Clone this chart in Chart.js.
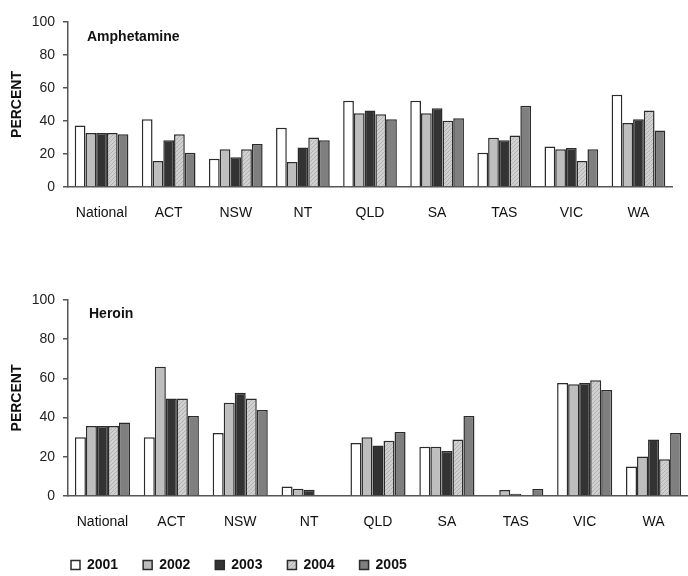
<!DOCTYPE html>
<html>
<head>
<meta charset="utf-8">
<script src="https://cdn.jsdelivr.net/npm/chart.js@4.4.0/dist/chart.umd.min.js"></script>
<style>
  body { margin: 0; background: #fff; overflow: hidden; }
  .box { position: absolute; left: 0; width: 688px; }
  #topBox { top: 0; height: 232px; }
  #botBox { top: 272px; height: 310px; }
</style>
</head>
<body>
<div class="box" id="topBox"><canvas id="amphChart"></canvas></div>
<div class="box" id="botBox"><canvas id="heroinChart"></canvas></div>
<script>
// categories and years
const regions = ['National', 'ACT', 'NSW', 'NT', 'QLD', 'SA', 'TAS', 'VIC', 'WA'];
const years = ['2001', '2002', '2003', '2004', '2005'];
const yTicks = [0, 20, 40, 60, 80, 100];

// Amphetamine, percent by year
const amph2001 = [37.3, 41, 17.1, 35.9, 52.2, 52.2, 20.8, 24.5, 55.9];
const amph2002 = [32.7, 15.7, 22.9, 15.1, 44.7, 44.7, 29.8, 22.9, 38.8];
const amph2003 = [32.7, 28.4, 18, 23.9, 46.3, 47.8, 28.4, 23.7, 41];
const amph2004 = [32.7, 32, 22.9, 30, 44.1, 40.2, 31.2, 15.7, 46.3];
const amph2005 = [32, 20.8, 26.1, 28.4, 41, 41.6, 49.2, 22.9, 34.3];

// Heroin, percent by year
const her2001 = [30, 30, 32.1, 4.9, 27, 25.1, 0, 57.7, 15];
const her2002 = [35.7, 65.9, 47.6, 3.7, 30, 25.1, 3.1, 57, 20.1];
const her2003 = [35.7, 49.7, 52.7, 3.2, 25.8, 23, 1.2, 57.7, 28.8];
const her2004 = [35.7, 49.7, 49.7, null, 28.2, 28.8, null, 59, 18.8];
const her2005 = [37.5, 40.8, 43.9, null, 32.6, 40.8, 3.6, 54.1, 32.1];

// hatched fill for 2004
function makeHatch() {
  const c = document.createElement('canvas');
  c.width = 4; c.height = 4;
  const g = c.getContext('2d');
  g.fillStyle = '#d0d0d0';
  g.fillRect(0, 0, 4, 4);
  g.strokeStyle = '#b2b2b2';
  g.lineWidth = 1;
  g.beginPath();
  g.moveTo(0, 4); g.lineTo(4, 0);
  g.moveTo(-1, 1); g.lineTo(1, -1);
  g.moveTo(3, 5); g.lineTo(5, 3);
  g.stroke();
  return g.createPattern(c, 'repeat');
}
const hatch = makeHatch();
const fills = ['#ffffff', '#bebebe', '#333333', hatch, '#7f7f7f'];

function makeSets(rows) {
  return rows.map((vals, i) => ({
    label: years[i],
    data: vals,
    backgroundColor: fills[i],
    borderColor: '#2b2b2b',
    borderWidth: 1.5,
    categoryPercentage: 0.8,
    barPercentage: 1,
  }));
}

// draws the panel name inside the plot
const panelTitle = {
  id: 'panelTitle',
  afterDraw(chart, args, opts) {
    const ctx = chart.ctx;
    ctx.save();
    ctx.font = 'bold 14px "Liberation Sans", Arial, sans-serif';
    ctx.fillStyle = '#111';
    ctx.textBaseline = 'middle';
    ctx.fillText(opts.text, opts.x, opts.y);
    ctx.restore();
  }
};

// push the legend row right so it starts under the plot
const legendShift = {
  id: 'legendShift',
  afterLayout(chart) {
    if (chart.legend) {
      chart.legend.left += 46;
      chart.legend.right += 46;
    }
  }
};

function buildOptions(title, pos, xHeight, padRight, showLegend) {
  return {
    responsive: true,
    maintainAspectRatio: false,
    animation: false,
    layout: { padding: { top: pos.padTop, right: padRight, left: 0, bottom: 0 } },
    scales: {
      x: {
        grid: { display: false },
        border: { display: true, color: '#555', width: 1.5 },
        ticks: { color: '#111', font: { size: 14, family: '"Liberation Sans", Arial' }, padding: 10 },
        afterFit: (s) => { s.height = xHeight; },
      },
      y: {
        min: 0,
        max: 100,
        afterBuildTicks: (s) => { s.ticks = yTicks.map(v => ({ value: v })); },
        grid: { drawOnChartArea: false, tickLength: 5, color: '#555', lineWidth: 1.5 },
        border: { display: true, color: '#555', width: 1.5 },
        ticks: { color: '#222', font: { size: 14, family: '"Liberation Sans", Arial' }, padding: 8 },
        title: {
          display: true,
          text: 'PERCENT',
          color: '#111',
          font: { size: 14, weight: 'bold', family: '"Liberation Sans", Arial' },
          padding: { top: 9, bottom: 0 },
        },
        afterFit: (s) => { s.width = 68; },
      },
    },
    plugins: {
      legend: {
        display: showLegend,
        position: 'bottom',
        align: 'start',
        labels: {
          boxWidth: 9,
          boxHeight: 9,
          padding: 25,
          color: '#111',
          font: { size: 14, weight: 'bold', family: '"Liberation Sans", Arial' },
        },
      },
      tooltip: { enabled: false },
      panelTitle: { text: title, x: pos.x, y: pos.y },
    },
  };
}

new Chart(document.getElementById('amphChart'), {
  type: 'bar',
  data: { labels: regions, datasets: makeSets([amph2001, amph2002, amph2003, amph2004, amph2005]) },
  options: buildOptions('Amphetamine', { x: 87, y: 37, padTop: 22 }, 45, 16, false),
  plugins: [panelTitle],
});

new Chart(document.getElementById('heroinChart'), {
  type: 'bar',
  data: { labels: regions, datasets: makeSets([her2001, her2002, her2003, her2004, her2005]) },
  options: buildOptions('Heroin', { x: 89, y: 42, padTop: 28 }, 37, 0, true),
  plugins: [panelTitle, legendShift],
});
</script>
</body>
</html>
